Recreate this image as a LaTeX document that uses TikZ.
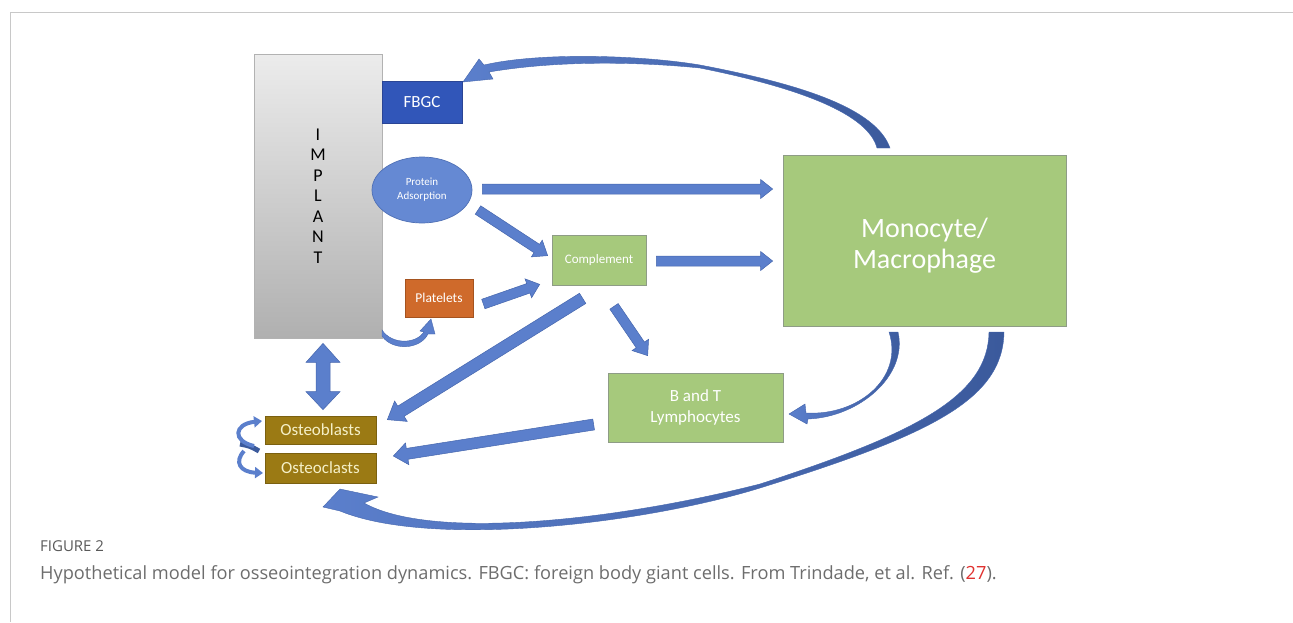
\documentclass[tikz,border=0pt]{standalone}
\usepackage{fontspec}
\setmainfont{Carlito}
\newfontfamily\capfont{Open Sans}
\usetikzlibrary{calc,shapes.geometric,arrows.meta}
\definecolor{boxgreen}{HTML}{A6C97C}
\definecolor{greenedge}{HTML}{8E9C86}
\definecolor{fbgcblue}{HTML}{3156B9}
\definecolor{fbgcedge}{HTML}{2A4595}
\definecolor{protblue}{HTML}{6589D3}
\definecolor{protedge}{HTML}{4F70B5}
\definecolor{platorange}{HTML}{CF6A2B}
\definecolor{platedge}{HTML}{A5531F}
\definecolor{osteogold}{HTML}{9B7A14}
\definecolor{osteoedge}{HTML}{7A6010}
\definecolor{osteotext}{HTML}{F5F0C8}
\definecolor{arrowfill}{HTML}{5B7FCC}
\definecolor{arrowedge}{HTML}{4566AD}
\definecolor{arrowdark}{HTML}{3B5A9C}
\definecolor{framegray}{HTML}{C8C8C8}
\definecolor{capgray}{HTML}{6D6D6D}
\definecolor{capgraydark}{HTML}{595959}
\definecolor{refred}{HTML}{E0312F}
\newcommand{\blockarr}[5]{%
  \coordinate (bH) at ($(#2)!#5!(#1)$);
  \draw[blockarrow] ($(#1)!#3!90:(#2)$) -- ($(bH)!#3!-90:(#1)$) -- ($(bH)!#4!-90:(#1)$) -- (#2)
    -- ($(bH)!#4!90:(#1)$) -- ($(bH)!#3!90:(#1)$) -- ($(#1)!#3!-90:(#2)$) -- cycle;}
\begin{document}
\begin{tikzpicture}[x=1pt,y=-1pt,
  box/.style={draw, line width=0.7pt, inner sep=0pt, text=white, align=center},
  greenbox/.style={box, fill=boxgreen, draw=greenedge},
  blockarrow/.style={fill=arrowfill, draw=arrowedge, line width=0.5pt, line join=miter},
  curvearrow/.style={draw=arrowedge, line width=0.4pt, left color=arrowfill, right color=arrowdark},
  loopline/.style={draw=arrowfill, line width=4pt},
  captext/.style={inner sep=0pt, anchor=base west}]
\useasboundingbox (0,0) rectangle (1293,622);
% frame
\draw[framegray, line width=1pt] (10,622) -- (10,12) -- (1293,12);

% nodes
\node[box, draw=gray!60, top color=gray!15, bottom color=gray!62, text=black,
  minimum width=128pt, minimum height=284pt,
  font=\fontsize{18}{20.5}\selectfont] (implant) at (318,196) {I\\M\\P\\L\\A\\N\\T};
\node[box, fill=fbgcblue, draw=fbgcedge, minimum width=80pt, minimum height=42pt,
  font=\fontsize{17}{20}\selectfont] (fbgc) at (422,102) {FBGC};
\node[box, ellipse, fill=protblue, draw=protedge, minimum width=100pt, minimum height=66pt,
  font=\fontsize{11}{14}\selectfont] (prot) at (422,190) {Protein\\Adsorption};
\node[greenbox, minimum width=94pt, minimum height=50pt,
  font=\fontsize{13}{15}\selectfont] (comp) at (599,260) {Complement};
\node[box, fill=platorange, draw=platedge, minimum width=68pt, minimum height=38pt,
  font=\fontsize{13.5}{15}\selectfont] (plat) at (439,298) {Platelets};
\node[greenbox, minimum width=283pt, minimum height=171pt] (mono) at (924.5,240.5) {};
\node[inner sep=0pt, text=white, align=center, font=\fontsize{28}{31}\selectfont]
  (monotext) at ($(mono.center)+(0,5)$) {Monocyte/\\Macrophage};
\node[greenbox, minimum width=175pt, minimum height=69pt,
  font=\fontsize{17}{21}\selectfont] (bt) at (695.5,407.5) {B and T\\Lymphocytes};
\node[box, fill=osteogold, draw=osteoedge, text=osteotext, minimum width=111pt, minimum height=28pt,
  font=\fontsize{17}{19}\selectfont] (ob) at (320.5,430) {Osteoblasts};
\node[box, fill=osteogold, draw=osteoedge, text=osteotext, minimum width=111pt, minimum height=30pt,
  font=\fontsize{17}{19}\selectfont] (oc) at (320.5,468) {Osteoclasts};

% straight block arrows
\coordinate (a1s) at ($(prot.east)+(10,-1)$);
\coordinate (a1e) at ($(mono.west)+(-10,-51.5)$);
\blockarr{a1s}{a1e}{5pt}{9.5pt}{12pt}
\coordinate (a2s) at ($(comp.east)+(10,1)$);
\coordinate (a2e) at ($(mono.west)+(-10,20.5)$);
\blockarr{a2s}{a2e}{5pt}{9.5pt}{12pt}
\coordinate (a3s) at ($(prot.center)+(56,20)$);
\coordinate (a3e) at ($(comp.north west)+(-4,21)$);
\blockarr{a3s}{a3e}{5pt}{10pt}{13pt}
\coordinate (a4s) at ($(plat.east)+(10,6)$);
\coordinate (a4e) at ($(comp.south west)+(-12,-1)$);
\blockarr{a4s}{a4e}{5pt}{10pt}{12pt}
\coordinate (a5s) at ($(comp.south west)+(31,13)$);
\coordinate (a5e) at ($(ob.north east)+(11,4)$);
\blockarr{a5s}{a5e}{6pt}{12pt}{16pt}
\coordinate (a6s) at ($(comp.south)+(15,21)$);
\coordinate (a6e) at ($(bt.north west)+(40,-17)$);
\blockarr{a6s}{a6e}{5pt}{10pt}{13pt}
\coordinate (a7s) at ($(bt.west)+(-14,17)$);
\coordinate (a7e) at ($(oc.east)+(17,-12)$);
\blockarr{a7s}{a7e}{5.5pt}{11pt}{14pt}

% double arrow implant <-> osteoblasts
\coordinate (dT) at ($(implant.south)+(5,5)$);
\coordinate (dB) at ($(ob.north)+(2.5,-6)$);
\draw[blockarrow] (dT) -- ($(dT)+(17,19)$) -- ($(dT)+(7,19)$) -- ($(dB)+(7,-18)$) -- ($(dB)+(17,-18)$)
  -- (dB) -- ($(dB)+(-17,-18)$) -- ($(dB)+(-7,-18)$) -- ($(dT)+(-7,19)$) -- ($(dT)+(-17,19)$) -- cycle;

% curved arrow: monocyte -> FBGC
\shade[curvearrow] (890,148) .. controls (876,108) and (800,84) .. (700,65)
  .. controls (640,55) and (540,52) .. (484,65) -- (479,59) -- (463,82) -- (493,79) -- (489,72)
  .. controls (560,60) and (640,62) .. (700,68) .. controls (800,88) and (868,114) .. (877,148) -- cycle;

% curved arrow: monocyte -> B and T
\shade[curvearrow] (898,332) .. controls (908,375) and (860,417) .. (808,419) -- (807,424) -- (789,414)
  -- (805,404) -- (806,413) .. controls (858,416) and (904,378) .. (889,332) -- cycle;

% curved arrow: monocyte -> osteoclasts
\shade[curvearrow] (1004,332) .. controls (1003,400) and (930,435) .. (760,488)
  .. controls (640,525) and (430,548) .. (340,511) -- (323,507) -- (340,489) -- (378,497) -- (364,503)
  .. controls (430,540) and (610,522) .. (760,484) .. controls (920,432) and (988,395) .. (989,332) -- cycle;

% small curved arrow: implant -> platelets
\fill[arrowfill, draw=arrowedge, line width=0.4pt] (382,336) .. controls (392,351) and (420,350) .. (428,334)
  -- (435,334) -- (431,319) -- (420,331) -- (424,332) .. controls (416,344) and (392,345) .. (382,330) -- cycle;

% self loops osteoblasts / osteoclasts
\draw[arrowdark, line width=5pt] (240,444) .. controls (250,446) .. (259,451);
\draw[loopline, -{Triangle[width=11pt,length=8pt]}] (254,446) .. controls (232,441) and (234,424) .. (262,421);
\draw[loopline, -{Triangle[width=11pt,length=8pt]}] (244,451) .. controls (234,462) and (240,472) .. (263,473);

% caption
\node[captext, font=\capfont\fontsize{15}{17}\selectfont, text=capgraydark] (figlabel) at (40,551) {FIGURE 2};
\node[captext, font=\capfont\fontsize{18.2}{21}\selectfont, text=capgray] (caption) at (40,579)
  {Hypothetical model for osseointegration dynamics. FBGC: foreign body giant cells. From Trindade, et al. Ref. (\textcolor{refred}{27}).};
\end{tikzpicture}
\end{document}
